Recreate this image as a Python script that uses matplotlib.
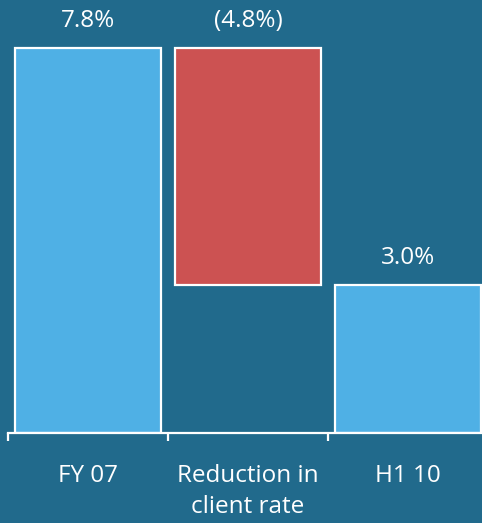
import matplotlib.pyplot as plt
from matplotlib.ticker import FixedLocator

# Waterfall: client rate FY 07 -> H1 10
categories = ["FY 07", "Reduction in\nclient rate", "H1 10"]
values = [7.8, -4.8, 3.0]
value_labels = ["7.8%", "(4.8%)", "3.0%"]

bg = "#216a8c"
blue = "#4fb0e5"
red = "#cc5252"

plt.rcParams['font.family'] = ['Open Sans', 'Noto Sans', 'DejaVu Sans']

fig = plt.figure(figsize=(4.82, 5.23), dpi=100, facecolor=bg)
ax = fig.add_axes([8 / 482, 1 - 433 / 523, 480 / 482, 385 / 523 * 10 / 7.8])
ax.set_facecolor(bg)

# bottoms: totals start at zero, the change hangs from the previous total
bottoms = [0, values[0] + values[1], 0]
heights = [values[0], -values[1], values[2]]
colors = [blue, red, blue]
x = range(len(categories))
ax.bar(x, heights, bottom=bottoms, width=0.91, color=colors,
       edgecolor="white", linewidth=1.6)

tops = [bottoms[i] + heights[i] for i in x]
for i in x:
    ax.text(i, tops[i] + 0.3, value_labels[i], ha="center", va="bottom",
            color="white", fontsize=17.5)

ax.set_xlim(-0.5, 2.5)
ax.set_ylim(0, 10)
ax.set_xticks(list(x))
ax.set_xticklabels(categories, color="white", fontsize=17.5, linespacing=1.4, va="top")
ax.xaxis.set_minor_locator(FixedLocator([-0.5, 0.5, 1.5, 2.5]))
ax.tick_params(axis="x", which="major", length=0, pad=22.5)
ax.tick_params(axis="x", which="minor", length=6, width=1.6, color="white")
ax.set_yticks([])
for s in ["top", "right", "left"]:
    ax.spines[s].set_visible(False)
ax.spines["bottom"].set_color("white")
ax.spines["bottom"].set_linewidth(1.6)

fig.savefig("out.png", facecolor=bg)
